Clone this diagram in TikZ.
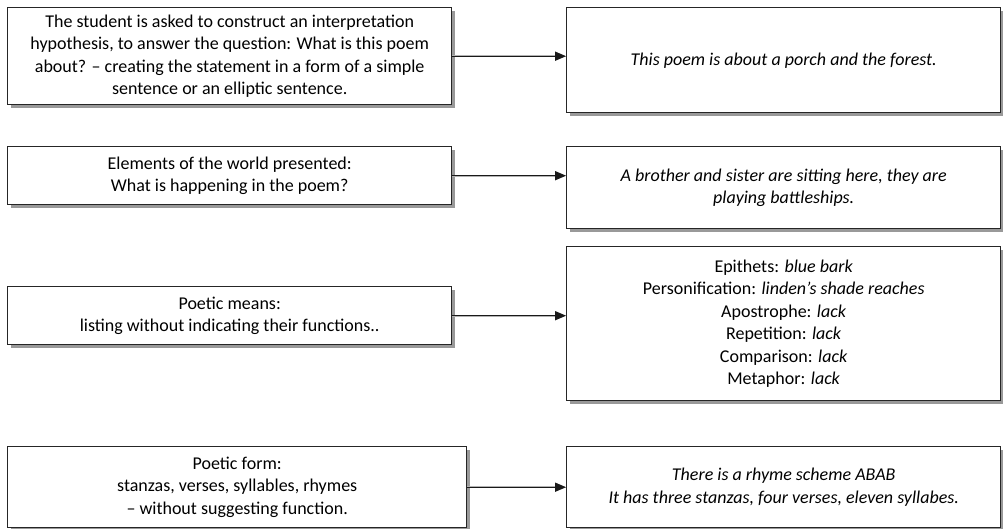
\documentclass[tikz,border=0pt]{standalone}
\usepackage{fontspec}
\setmainfont{Carlito}
\usetikzlibrary{shadows,arrows.meta}
\begin{document}
\begin{tikzpicture}[x=1pt,y=-1pt,
  box/.style={draw=black!85, line width=1.4pt, fill=white, align=center, anchor=north west,
    inner sep=2pt, font=\fontsize{18}{22.5}\selectfont,
    drop shadow={shadow xshift=3.5pt, shadow yshift=-3.5pt, fill=black!40, opacity=1}},
  conn/.style={draw=black!90, line width=1.2pt, -{Triangle[length=11pt,width=9pt]}},
  connshadow/.style={draw=black!30, line width=1.6pt, -{Triangle[length=11pt,width=9pt]}, yshift=-3pt, xshift=1pt}
]
\useasboundingbox[fill=white] (0,0) rectangle (1003,528);

\node[box, minimum width=444pt, minimum height=97pt] (a1) at (7,7)
  {The student is asked to construct an interpretation\\hypothesis, to answer the question: What is this poem\\about? -- creating the statement in a form of a simple\\sentence or an elliptic sentence.};
\node[box, minimum width=434pt, minimum height=105pt] (b1) at (566,7)
  {\itshape This poem is about a porch and the forest.};

\node[box, minimum width=444pt, minimum height=58pt] (a2) at (7,146)
  {Elements of the world presented:\\What is happening in the poem?};
\node[box, minimum width=434pt, minimum height=82pt] (b2) at (566,146)
  {\itshape A brother and sister are sitting here, they are\\\itshape playing battleships.};

\node[box, minimum width=444pt, minimum height=58pt] (a3) at (7,286)
  {Poetic means:\\listing without indicating their functions..};
\node[box, minimum width=434pt, minimum height=154pt] (b3) at (566,246)
  {Epithets: \textit{blue bark}\\Personification: \textit{linden’s shade reaches}\\Apostrophe: \textit{lack}\\Repetition: \textit{lack}\\Comparison: \textit{lack}\\Metaphor: \textit{lack}};

\node[box, minimum width=459pt, minimum height=81pt] (a4) at (7,446)
  {Poetic form:\\stanzas, verses, syllables, rhymes\\-- without suggesting function.};
\node[box, minimum width=434pt, minimum height=81pt] (b4) at (566,446)
  {\itshape There is a rhyme scheme ABAB\\\itshape It has three stanzas, four verses, eleven syllabes.};

\foreach \i in {1,2,3,4}{
  \draw[connshadow] (a\i.east) -- (a\i.east -| b\i.west);
  \draw[conn] (a\i.east) -- (a\i.east -| b\i.west);
}
\end{tikzpicture}
\end{document}
